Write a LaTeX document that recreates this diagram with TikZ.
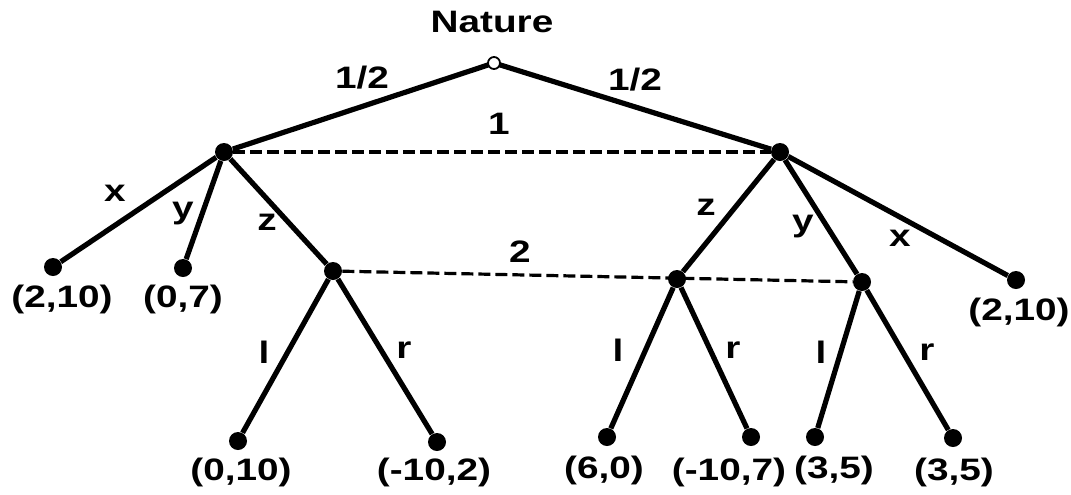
\documentclass[tikz,border=0pt]{standalone}
\usepackage{fontspec}
\newfontfamily\lab[FakeStretch=1.25]{Liberation Sans}
\begin{document}
\begin{tikzpicture}[x=0.5pt,y=-0.5pt,
  edge/.style={line width=2.6pt},
  info/.style={line width=1.6pt,dash pattern=on 6pt off 2.5pt},
  dec/.style={circle,fill=black,inner sep=0pt,minimum size=9pt},
  leaf/.style={circle,fill=black,inner sep=0pt,minimum size=9pt},
  root/.style={circle,draw=black,fill=white,line width=0.9pt,inner sep=0pt,minimum size=6pt},
  txt/.style={font=\lab\bfseries\fontsize{15.5}{17}\selectfont,inner sep=0pt}]
\useasboundingbox (0,0) rectangle (1071,494);
% nodes
\coordinate (Np) at (494,63);
\node[dec] (A) at (224,152) {};
\node[dec] (B) at (780,152) {};
\node[dec] (C) at (333,271) {};
\node[dec] (D) at (677,279) {};
\node[dec] (E) at (862,282) {};
\node[leaf] (L1) at (53,267) {};
\node[leaf] (L2) at (183,268) {};
\node[leaf] (L3) at (1016,280) {};
\node[leaf] (L4) at (238,441) {};
\node[leaf] (L5) at (437,442) {};
\node[leaf] (L6) at (607,437) {};
\node[leaf] (L7) at (751,437) {};
\node[leaf] (L8) at (815,437) {};
\node[leaf] (L9) at (953,438) {};
% edges
\draw[edge] (Np) -- (A);
\draw[edge] (Np) -- (B);
\draw[edge] (A) -- (L1);
\draw[edge] (A) -- (L2);
\draw[edge] (A) -- (C);
\draw[edge] (B) -- (D);
\draw[edge] (B) -- (E);
\draw[edge] (B) -- (L3);
\draw[edge] (C) -- (L4);
\draw[edge] (C) -- (L5);
\draw[edge] (D) -- (L6);
\draw[edge] (D) -- (L7);
\draw[edge] (E) -- (L8);
\draw[edge] (E) -- (L9);
\draw[info] (A) -- (B);
\draw[info] (C) -- (E);
\node[root] (N) at (Np) {};
% labels
\node[txt] (tN) at (492,22) {Nature};
\node[txt] (p1) at (362,78) {1/2};
\node[txt] (p2) at (635,80) {1/2};
\node[txt] (i1) at (499,124) {1};
\node[txt] (i2) at (520,252) {2};
\node[txt] (lx1) at (115,193) {x};
\node[txt] (ly1) at (183,214) {y};
\node[txt] (lz1) at (267,222) {z};
\node[txt] (lz2) at (706,207) {z};
\node[txt] (ly2) at (803,227) {y};
\node[txt] (lx2) at (900,238) {x};
\node[txt] (ll1) at (264,352) {l};
\node[txt] (lr1) at (404,350) {r};
\node[txt] (ll2) at (618,350) {l};
\node[txt] (lr2) at (733,350) {r};
\node[txt] (ll3) at (821,352) {l};
\node[txt] (lr3) at (927,352) {r};
% payoffs
\node[txt] (o1) at (62,299) {(2,10)};
\node[txt] (o2) at (183,299) {(0,7)};
\node[txt] (o3) at (1019,312) {(2,10)};
\node[txt] (o4) at (241,472) {(0,10)};
\node[txt] (o5) at (434,472) {(-10,2)};
\node[txt] (o6) at (604,470) {(6,0)};
\node[txt] (o7) at (729,472) {(-10,7)};
\node[txt] (o8) at (834,470) {(3,5)};
\node[txt] (o9) at (954,472) {(3,5)};
\end{tikzpicture}
\end{document}
